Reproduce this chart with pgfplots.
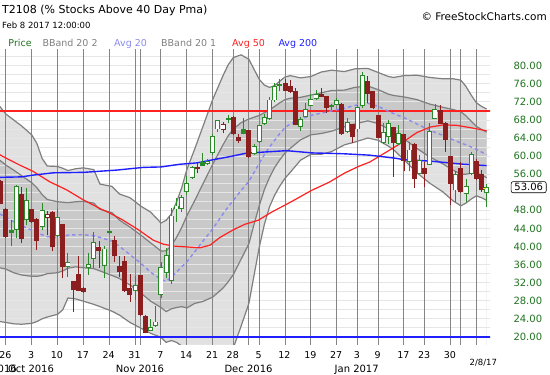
\documentclass[border=0pt]{standalone}
\usepackage{pgfplots}
\pgfplotsset{compat=1.18}
\usepackage{pgfplotstable}
\usepackage{fontspec}
\setmainfont{DejaVu Sans}

\definecolor{cgreen}{HTML}{2A8A2A}
\definecolor{cred}{HTML}{8B1E1E}
\definecolor{lblgreen}{HTML}{1F731F}
\definecolor{bandline}{HTML}{7F7F7F}
\definecolor{outerfill}{HTML}{E1E1E1}
\definecolor{innerfill}{HTML}{C9C9C9}
\definecolor{hgrid}{HTML}{E6E6E6}
\definecolor{vgrid}{HTML}{858585}
\definecolor{avgtwenty}{HTML}{8A8AF0}
\definecolor{avgfifty}{HTML}{FF2020}
\definecolor{avgtwohundred}{HTML}{2020FF}
\definecolor{lgray}{HTML}{808080}

\pgfplotstableread{
x     u2    u1    avg   l1    l2
-1.2  71.0  59.1  47.2  35.3  23.4
0     69.3  58.0  46.5  35.0  23.2
1.5   68.0  56.9  45.5  34.2  22.9
3     66.7  55.7  44.6  33.7  22.8
5     64.7  54.1  43.6  33.4  23.0
6     62.8  53.0  43.0  33.4  23.4
7     59.5  51.5  42.6  33.6  24.0
8     57.8  50.4  42.2  34.0  24.4
10    57.7  49.9  41.9  34.2  25.0
11    57.3  49.8  42.2  34.6  26.0
12    56.8  49.7  42.5  35.2  28.6
13.5  57.2  49.9  42.6  35.5  28.4
15    57.4  50.0  42.6  35.3  27.9
17    57.0  49.6  42.4  35.1  27.2
18.2  53.8  48.2  42.0  34.6  26.7
20.5  53.3  47.5  41.2  33.6  25.7
22    51.6  45.8  40.0  32.9  24.8
24    50.8  44.3  38.2  31.5  23.2
26    49.0  42.6  36.4  29.8  22.0
28    47.6  40.8  34.3  27.9  20.8
30    45.2  39.0  32.7  26.5  19.9
31    45.8  39.05 32.3  25.6  18.8
32    47.2  40.2  33.2  26.2  19.2
33    49.8  42.0  34.3  26.5  18.8
34    53.0  44.2  35.5  26.7  18.0
35    57.0  46.8  36.6  26.4  16.2
36.5  61.5  50.1  38.8  27.4  16.1
38    66.2  53.6  41.0  27.8  15.8
40    72.5  58.2  43.9  28.8  15.3
42    77.8  62.5  47.2  30.8  16.6
43    80.2  64.5  48.8  32.2  17.4
44    81.8  66.0  50.2  33.8  17.6
45.5  82.4  67.4  52.4  37.2  22.4
47    81.4  68.2  54.4  40.6  27.4
48    79.2  68.6  56.4  44.9  33.6
49    77.0  69.0  58.4  49.0  39.8
50    75.7  69.6  60.3  52.6  44.9
51    75.2  70.2  62.0  55.3  48.8
52    75.6  71.0  63.5  57.5  51.4
53    76.6  71.8  65.0  59.2  53.4
54    77.5  72.5  66.3  60.7  55.1
55    77.8  72.8  67.1  61.7  56.4
57    77.3  73.0  68.2  63.6  59.1
59    77.6  73.5  69.0  64.7  60.4
61    78.6  74.0  69.5  65.0  60.4
63    79.0  74.5  70.0  65.5  61.0
65.5  78.7  74.6  70.6  66.5  62.5
67.5  79.3  75.2  71.2  67.1  63.1
70    79.4  75.5  71.7  67.8  64.0
72    78.5  74.7  71.0  67.2  63.5
74    77.6  73.7  69.9  66.0  62.2
75    77.4  73.4  69.4  65.4  61.4
77    77.8  73.1  68.5  63.8  59.2
79.5  77.9  72.5  67.1  61.7  56.3
82    77.4  71.5  65.7  59.8  54.0
84.5  77.1  70.8  64.6  58.3  52.1
86.5  77.1  70.3  63.6  56.9  50.1
88    76.8  69.8  62.9  56.0  49.0
89    75.4  68.9  62.5  56.0  49.6
90    73.5  67.7  62.0  56.2  50.5
91    71.8  66.6  61.5  56.3  51.2
92    71.0  65.9  60.9  55.8  50.8
93    70.4  65.3  60.3  55.2  50.2
}\bands

\pgfplotstableread{
x    v
-1.2 60.3
0.8  59.1
2.7  58.0
5.3  56.6
8.5  54.3
11.8 52.5
15   50.3
18.2 48.4
20.1 47.4
22.4 46.0
25.5 43.8
28.5 41.4
30.5 40.5
32.4 40.1
35   39.9
37.5 39.7
39.5 40.3
41.4 42.0
44   43.7
46.2 44.9
48.8 45.8
51.4 47.6
55.2 49.9
59.1 52.4
62.5 54.2
65.6 56.3
68.2 57.7
70.4 58.7
73.6 60.9
76.9 63.2
79.5 65.2
82   66.4
84.6 66.9
87.2 66.8
89.8 66.3
93   65.6
}\mafifty

\pgfplotstableread{
x    v
-1.2 55.3
3    55.4
5.3  55.8
9.2  56.3
15   56.4
21.4 56.9
26.6 57.5
30   57.6
33.7 58.2
37   58.5
40.1 59.2
43.4 59.9
46.3 60.6
50   60.9
54.3 61.2
59.3 60.7
62.7 60.6
65.6 60.5
70.4 60.2
75.5 59.5
77   59.2
82   58.9
88.5 58.2
93   57.9
}\matwohundred

% candles: x, low, body low, body high, high
% hollow green (close > open, up from previous close)
\pgfplotstableread{
x   l     bl    bh    h
2   41.8  43.8  53.2  53.6
4   44.8  45.9  50.1  52.9
7   43.7  44.5  47.9  49.7
10  42.2  42.4  46.4  48.2
12  33.3  35.6  36.4  38.6
16  33.7  35.4  36.1  38.5
17  35.2  37.4  40.9  43.1
19  33.0  35.7  39.45 40.0
25  28.1  30.2  31.3  33.5
28  21.3  21.5  22.1  24.0
29  22.3  22.5  23.3  26.8
30  28.5  29.3  35.4  36.65
31  33.1  34.3  38.1  39.6
32  31.6  32.45 46.75 48.45
33  45.5  48.3  48.96 50.7
34  47.7  48.45 50.8  51.4
35  51.4  52.1  54.0  55.6
36  55.0  55.3  57.45 57.7
39  58.0  58.3  58.9  59.4
40  60.2  60.8  64.3  64.8
41  65.3  66.0  67.8  68.0
48  60.3  60.6  62.2  62.7
49  62.9  63.3  66.7  66.9
50  66.9  67.25 68.6  69.3
51  68.0  68.4  72.4  73.1
52  72.0  72.4  75.4  76.1
57  65.6  66.5  68.1  68.7
58  68.6  68.7  70.4  71.7
59  71.0  71.2  72.6  73.7
60  72.4  72.8  73.7  74.6
64  71.3  71.5  72.2  72.9
66  65.2  65.4  67.4  68.5
68  65.4  66.0  70.8  71.3
69  70.6  71.2  77.8  78.5
73  62.6  63.05 65.3  67.25
74  62.6  64.3  67.25 68.0
76  62.4  62.8  65.0  66.9
78  56.6  58.9  61.35 63.05
80  56.0  56.2  59.1  60.2
82  58.0  58.2  65.4  67.25
83  68.2  68.4  70.4  71.45
87  49.9  52.5  56.0  56.7
89  49.9  51.8  53.2  54.9
90  55.8  56.2  60.4  61.0
93  48.8  51.9  53.06 53.75
}\hg
% filled green (close < open, up from previous close)
\pgfplotstableread{
x   l     bl    bh    h
1   40.0  43.15 43.65 45.9
20  42.8  43.0  43.25 47.4
38  57.7  57.8  58.5  60.6
43  67.4  68.05 68.3  69.1
46  64.9  65.0  65.9  68.5
53  74.4  75.5  75.8  77.1
63  70.3  70.85 71.1  71.5
}\fg
% filled red (close < open, down from previous close)
\pgfplotstableread{
x   l     bl    bh    h
-1  49.3  49.6  54.3  54.6
0   41.9  42.2  48.2  48.6
3   40.7  41.8  51.6  53.1
5   45.2  45.5  48.1  48.3
6   39.2  41.3  46.0  46.2
9   38.9  40.0  47.5  47.9
11  33.0  35.6  44.8  45.0
13  25.6  30.4  32.2  32.4
14  30.1  30.3  33.9  37.9
15  29.8  30.0  30.8  31.0
18  35.2  39.2  39.75 41.3
21  36.65 37.9  41.4  42.3
22  33.3  34.4  35.5  37.9
23  29.9  30.2  36.7  37.8
24  27.8  29.4  30.75 33.85
26  24.6  24.85 33.5  33.6
27  20.8  21.0  24.6  24.85
37  56.2  57.2  57.5  58.4
44  64.7  64.9  68.6  68.9
45  62.9  63.4  64.1  64.9
47  59.5  60.0  65.6  65.8
54  74.3  74.6  76.1  77.1
55  73.9  74.3  75.4  76.9
56  66.9  67.0  74.3  75.1
61  73.0  73.2  73.7  75.0
62  69.5  70.7  73.15 73.2
65  64.7  64.9  71.5  71.8
67  63.0  64.3  66.9  67.0
70  71.7  73.9  76.5  77.7
71  70.5  70.7  74.25 74.4
72  63.9  64.1  68.9  69.1
75  55.45 63.05 66.3  66.4
77  56.6  59.1  64.7  64.8
79  53.0  55.1  62.5  62.9
81  53.2  56.2  57.3  58.8
84  67.0  67.25 70.2  71.3
85  61.0  63.6  67.25 67.5
86  49.2  54.0  59.9  60.0
88  51.9  52.1  57.3  58.8
91  54.7  55.1  58.9  59.4
92  52.1  52.5  56.0  57.0
}\fr
% hollow red (close > open, down from previous close)
\pgfplotstableread{
x   l     bl    bh    h
8   42.5  46.5  47.1  47.9
42  65.0  65.8  67.0  67.6
}\hr

\pgfplotsset{
  wick/.style={draw=none, mark=none, error bars/.cd, y dir=plus, y explicit, error mark=none,
     error bar style={draw=#1, line width=0.9bp}},
  body/.style={draw=none, mark=none, error bars/.cd, y dir=plus, y explicit, error mark=none,
     error bar style={draw=#1, line width=5bp}},
  inner/.style={draw=none, mark=none, error bars/.cd, y dir=plus, y explicit, error mark=none,
     error bar style={draw=white, line width=3.2bp}},
}

\begin{document}
\begin{tikzpicture}
\path[use as bounding box] (0,0) rectangle (550bp,375bp);
\begin{axis}[
  at={(0bp,30bp)}, anchor=south west,
  scale only axis, width=490bp, height=295bp,
  xmin=-1.14, xmax=93.64, ymin=18.21, ymax=83.47,
  axis line style={draw=none},
  major tick length=0pt,
  xtick={0,5,10,15,20,25,30,35,40,44,49,54,59,64,68,72,77,81,86},
  xticklabels={26,3,10,17,24,31,7,14,21,28,5,12,19,27,3,9,17,23,30},
  xticklabel style={font=\fontsize{9.5bp}{11bp}\selectfont, anchor=base, yshift=-13.3bp, xshift=-0.6bp},
  ytick={20,24,28,32,36,40,44,48,56,60,64,68,72,76,80},
  yticklabels={20.00,24.00,28.00,32.00,36.00,40.00,44.00,48.00,56.00,60.00,64.00,68.00,72.00,76.00,80.00},
  yticklabel pos=right,
  yticklabel style={font=\fontsize{10bp}{12bp}\selectfont, text=lblgreen, anchor=west, inner sep=0pt, xshift=23.3bp},
  clip=true,
]
% band fills, layered from the top band down
\addplot[fill=outerfill, draw=none] table[x=x, y=u2] {\bands} \closedcycle;
\addplot[fill=innerfill, draw=none] table[x=x, y=u1] {\bands} \closedcycle;
\addplot[fill=outerfill, draw=none] table[x=x, y=l1] {\bands} \closedcycle;
\addplot[fill=white, draw=none] table[x=x, y=l2] {\bands} \closedcycle;
% grid
\pgfplotsinvokeforeach{20,22,24,26,28,30,32,34,36,38,40,42,44,46,48,50,52,54,56,58,60,62,64,66,68,70,72,74,76,78,80,82}{
  \addplot[hgrid, line width=0.8bp] coordinates {(-2,#1) (95,#1)};
}
\pgfplotsinvokeforeach{0,5,10,15,20,25,26,30,35,40,44,47,49,54,59,64,68,72,77,81,86,88,91}{
  \addplot[vgrid, line width=1bp] coordinates {(#1,15) (#1,90)};
}
% band lines
\addplot[bandline, line width=1.2bp] table[x=x, y=u2] {\bands};
\addplot[bandline, line width=1.2bp] table[x=x, y=l2] {\bands};
\addplot[bandline, line width=1.2bp] table[x=x, y=u1] {\bands};
\addplot[bandline, line width=1.2bp] table[x=x, y=l1] {\bands};
% reference lines
\addplot[color=avgfifty, line width=2.2bp] coordinates {(-2,70) (95,70)};
\addplot[color=avgtwohundred, line width=2.2bp] coordinates {(-2,20) (95,20)};
% averages
\addplot[avgtwenty, line width=1.4bp, dash pattern=on 3.5bp off 3bp] table[x=x, y=avg] {\bands};
\addplot[avgfifty, line width=1.2bp] table[x=x, y=v] {\mafifty};
\addplot[avgtwohundred, line width=1.4bp] table[x=x, y=v] {\matwohundred};
% candles: wicks
\addplot[wick=cgreen] table[x=x, y=l, y error expr=\thisrow{h}-\thisrow{l}] {\hg};
\addplot[wick=cgreen] table[x=x, y=l, y error expr=\thisrow{h}-\thisrow{l}] {\fg};
\addplot[wick=cred] table[x=x, y=l, y error expr=\thisrow{h}-\thisrow{l}] {\fr};
\addplot[wick=cred] table[x=x, y=l, y error expr=\thisrow{h}-\thisrow{l}] {\hr};
% candles: bodies
\addplot[body=cgreen] table[x=x, y expr=\thisrow{bl}-0.1, y error expr=\thisrow{bh}-\thisrow{bl}+0.2] {\hg};
\addplot[inner] table[x=x, y expr=\thisrow{bl}+0.1, y error expr=\thisrow{bh}-\thisrow{bl}-0.2] {\hg};
\addplot[body=cgreen] table[x=x, y expr=\thisrow{bl}-0.1, y error expr=\thisrow{bh}-\thisrow{bl}+0.2] {\fg};
\addplot[body=cred] table[x=x, y expr=\thisrow{bl}-0.1, y error expr=\thisrow{bh}-\thisrow{bl}+0.2] {\fr};
\addplot[body=cred] table[x=x, y expr=\thisrow{bl}-0.1, y error expr=\thisrow{bh}-\thisrow{bl}+0.2] {\hr};
\addplot[inner] table[x=x, y expr=\thisrow{bl}+0.1, y error expr=\thisrow{bh}-\thisrow{bl}-0.2] {\hr};
\addplot[color=yellow!90!orange, line width=1.2bp] coordinates {(92.2,52.9) (92.9,52.9)};
\end{axis}
% titles and legend
\node[anchor=base west, inner sep=0pt, font=\fontsize{11bp}{13bp}\selectfont] at (2bp,361bp) {T2108 (\% Stocks Above 40 Day Pma)};
\node[anchor=base west, inner sep=0pt, font=\fontsize{8.5bp}{10bp}\selectfont] at (2bp,346bp) {Feb 8 2017 12:00:00};
\node[anchor=base east, inner sep=0pt, font=\fontsize{10.5bp}{12bp}\selectfont] at (547bp,354.3bp) {© FreeStockCharts.com};
\begin{scope}[every node/.style={anchor=base west, inner sep=0pt, font=\fontsize{9.5bp}{11bp}\selectfont}]
\node[text=lblgreen] at (8.3bp,328.3bp) {Price};
\node[text=lgray] at (42.3bp,328.3bp) {BBand 20 2};
\node[text=avgtwenty] at (114bp,328.3bp) {Avg 20};
\node[text=lgray] at (161bp,328.3bp) {BBand 20 1};
\node[text=avgfifty] at (232bp,328.3bp) {Avg 50};
\node[text=avgtwohundred] at (278.3bp,328.3bp) {Avg 200};
\end{scope}
% month labels and last date
\begin{scope}[every node/.style={anchor=base, inner sep=0pt, font=\fontsize{10bp}{12bp}\selectfont}]
\node[anchor=base east] at (17bp,2.3bp) {2016};
\node at (31bp,2.3bp) {Oct 2016};
\node at (140bp,2.3bp) {Nov 2016};
\node at (248.5bp,2.3bp) {Dec 2016};
\node at (356.7bp,2.3bp) {Jan 2017};
\node[font=\fontsize{8.5bp}{10bp}\selectfont] at (483.3bp,10bp) {2/8/17};
\end{scope}
% last value box
\node[draw=black, fill=white, rounded corners=2bp, line width=0.6bp, inner xsep=3.2bp, inner ysep=1.8bp, font=\fontsize{10bp}{12bp}\selectfont] at (528.7bp,187.8bp) {53.06};
\end{tikzpicture}
\end{document}
